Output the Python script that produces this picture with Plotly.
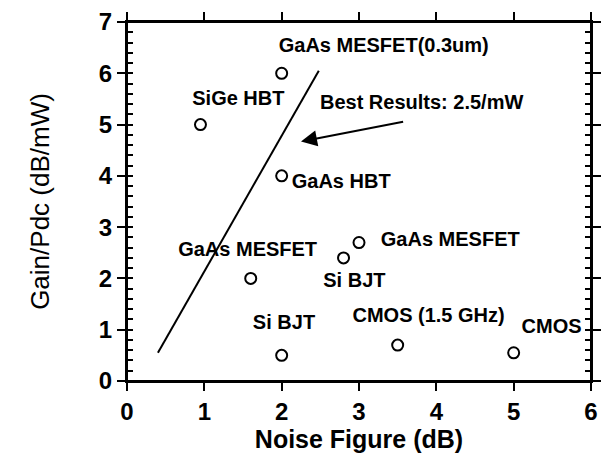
import plotly.graph_objects as go

# Data points
device_nf = [0.95, 2.0, 2.0, 1.6, 2.8, 3.0, 2.0, 3.5, 5.0]
device_gain = [5.0, 6.0, 4.0, 2.0, 2.4, 2.7, 0.5, 0.7, 0.55]

# Best-results trend line
line_nf = [0.4, 2.48]
line_gain = [0.55, 6.05]

# Text labels
label_text = ["GaAs MESFET(0.3um)", "SiGe HBT", "Best Results: 2.5/mW", "GaAs HBT",
              "GaAs MESFET", "GaAs MESFET", "Si BJT", "Si BJT", "CMOS (1.5 GHz)", "CMOS"]
label_x = [3.32, 1.44, 3.81, 2.77, 1.56, 4.18, 2.94, 2.03, 3.90, 5.49]
label_y = [6.52, 5.48, 5.41, 3.86, 2.54, 2.73, 1.93, 1.12, 1.25, 1.04]

# Arrow (tail -> head)
arrow_tail = (3.59, 5.06)
arrow_head = (2.25, 4.67)

x_ticks = [0, 1, 2, 3, 4, 5, 6]
y_ticks = [0, 1, 2, 3, 4, 5, 6, 7]
x_range = [0, 6]
y_range = [0, 7]

FONT = "Liberation Sans, Arial, Helvetica, sans-serif"

fig = go.Figure()
fig.add_trace(go.Scatter(x=line_nf, y=line_gain, mode="lines",
                         line=dict(color="black", width=2), showlegend=False, hoverinfo="skip"))
fig.add_trace(go.Scatter(x=device_nf, y=device_gain, mode="markers",
                         marker=dict(symbol="circle-open", size=11, color="black",
                                     line=dict(color="black", width=2)),
                         showlegend=False))
fig.add_trace(go.Scatter(x=label_x, y=label_y, mode="text", text=label_text,
                         textposition="middle center",
                         textfont=dict(family=FONT, size=20, color="black"),
                         texttemplate="<b>%{text}</b>",
                         showlegend=False, hoverinfo="skip"))

fig.add_annotation(x=arrow_head[0], y=arrow_head[1], ax=arrow_tail[0], ay=arrow_tail[1],
                   xref="x", yref="y", axref="x", ayref="y", text="", showarrow=True,
                   arrowhead=2, arrowsize=1.6, arrowwidth=2, arrowcolor="black")

# plot frame (coincides with the axis lines)
fig.add_shape(type="rect", xref="paper", yref="paper", x0=0, x1=1, y0=0, y1=1,
              line=dict(color="black", width=2), layer="above")

axis_common = dict(showline=True, linecolor="black", linewidth=2, mirror="ticks",
                   showgrid=False, zeroline=False, ticks="outside", ticklen=8,
                   tickwidth=2, tickcolor="black", automargin=False,
                   tickfont=dict(family=FONT, size=24, color="black"))
minor_y = dict(ticks="inside", dtick=0.2, ticklen=6, tickwidth=2,
               tickcolor="black", showgrid=False)

fig.update_layout(
    xaxis=dict(range=x_range, tickvals=x_ticks,
               ticktext=["<b>%d</b>" % v for v in x_ticks],
               title=dict(text="<b>Noise Figure (dB)</b>", standoff=6,
                          font=dict(family=FONT, size=25, color="black")),
               **axis_common),
    yaxis=dict(range=y_range, tickvals=y_ticks,
               ticktext=["<b>%d</b>" % v for v in y_ticks],
               title=dict(text="Gain/Pdc (dB/mW)", standoff=42,
                          font=dict(family=FONT, size=26, color="black")),
               minor=minor_y, **axis_common),
    width=606, height=446, margin=dict(l=119, r=23, t=14, b=73),
    plot_bgcolor="white", paper_bgcolor="white", showlegend=False)

fig.write_html("out.html")
